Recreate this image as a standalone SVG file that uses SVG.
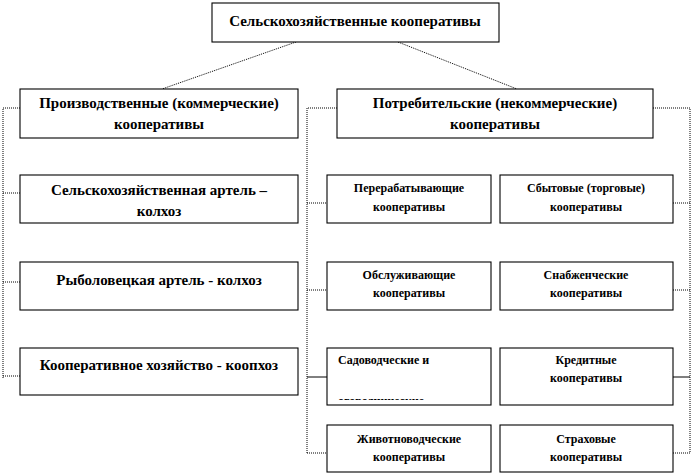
<svg xmlns="http://www.w3.org/2000/svg" width="693" height="476" viewBox="0 0 693 476">
<style>
.box{fill:#fff;stroke:#000;stroke-width:1.1}
.t{font-family:'Liberation Serif','DejaVu Serif','Times New Roman',serif;font-weight:bold;font-size:15px;fill:#000;text-anchor:middle}
.s{font-family:'Liberation Serif','DejaVu Serif','Times New Roman',serif;font-weight:bold;font-size:12px;fill:#000;text-anchor:middle}
.dot{fill:none;stroke:#000;stroke-width:1;stroke-dasharray:1 1}
.sol{fill:none;stroke:#000;stroke-width:1}
</style>
<defs>
<clipPath id="c3"><rect x="327" y="348" width="164" height="52"/></clipPath>
</defs>
<rect width="693" height="476" fill="#fff"/>
<g id="connectors">
<path class="dot" d="M296 42 L162 89 M398 42 L517 89"/>
<path class="dot" d="M20 108 H3 V378 M3 193 H20 M3 282 H20 M3 376 H20"/>
<path class="dot" d="M337 108 H307 V453 M307 203 H327 M307 290 H327 M307 453 H327"/>
<path class="dot" d="M653 108 H690 V453 M673 203 H690 M673 290 H690 M673 453 H690"/>
<path class="sol" d="M307 377 H327 M673 377 H690"/>
</g>
<g id="root"><rect class="box" x="212" y="3" width="287" height="39"/><text class="t" x="355" y="26">Сельскохозяйственные кооперативы</text></g>
<g id="prod"><rect class="box" x="20" y="89" width="278" height="49"/><text class="t" x="159" y="108">Производственные (коммерческие)</text><text class="t" x="159" y="129">кооперативы</text></g>
<g id="kolhoz"><rect class="box" x="20" y="175" width="278" height="48"/><text class="t" x="159" y="195">Сельскохозяйственная  артель –</text><text class="t" x="159" y="216">колхоз</text></g>
<g id="ryb"><rect class="box" x="20" y="262" width="278" height="48"/><text class="t" x="159" y="285">Рыболовецкая артель - колхоз</text></g>
<g id="koophoz"><rect class="box" x="20" y="348" width="278" height="47"/><text class="t" x="159" y="370">Кооперативное хозяйство - коопхоз</text></g>
<g id="potr"><rect class="box" x="337" y="89" width="316" height="49"/><text class="t" x="495" y="108">Потребительские (некоммерческие)</text><text class="t" x="495" y="129">кооперативы</text></g>
<g id="pererab"><rect class="box" x="327" y="175" width="164" height="48"/><text class="s" x="409" y="192">Перерабатывающие</text><text class="s" x="409" y="211">кооперативы</text></g>
<g id="sbyt"><rect class="box" x="500" y="175" width="173" height="48"/><text class="s" x="586" y="192">Сбытовые (торговые)</text><text class="s" x="586" y="211">кооперативы</text></g>
<g id="obsl"><rect class="box" x="327" y="262" width="164" height="48"/><text class="s" x="409" y="279">Обслуживающие</text><text class="s" x="409" y="297">кооперативы</text></g>
<g id="snab"><rect class="box" x="500" y="262" width="173" height="48"/><text class="s" x="586" y="279">Снабженческие</text><text class="s" x="586" y="297">кооперативы</text></g>
<g id="sad"><rect class="box" x="327" y="348" width="164" height="57"/><text class="s" x="338" y="364" style="text-anchor:start">Садоводческие  и</text><text class="s" x="338" y="405" style="text-anchor:start" clip-path="url(#c3)">огороднические</text></g>
<g id="kred"><rect class="box" x="500" y="348" width="173" height="57"/><text class="s" x="586" y="364">Кредитные</text><text class="s" x="586" y="382">кооперативы</text></g>
<g id="zhiv"><rect class="box" x="327" y="425" width="164" height="47"/><text class="s" x="409" y="443">Животноводческие</text><text class="s" x="409" y="461">кооперативы</text></g>
<g id="strah"><rect class="box" x="500" y="425" width="173" height="47"/><text class="s" x="586" y="443">Страховые</text><text class="s" x="586" y="461">кооперативы</text></g>
</svg>
